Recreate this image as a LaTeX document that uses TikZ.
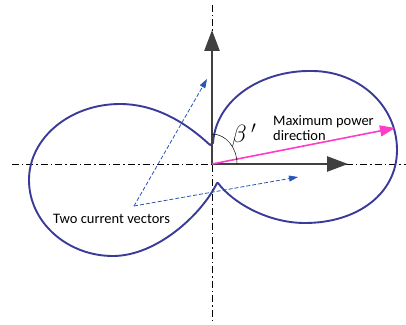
\documentclass[tikz,border=0pt]{standalone}
\usepackage{fontspec}
\setmainfont{Carlito}
\usepackage{tikz}
\usetikzlibrary{arrows.meta}
\definecolor{lobeBlue}{HTML}{3A3A98}
\definecolor{vecBlue}{HTML}{2A55B8}
\definecolor{axisGray}{HTML}{404040}
\definecolor{powMagenta}{HTML}{FF3CC8}

\begin{document}
\begin{tikzpicture}[x=1pt, y=1pt,
    centerline/.style={line width=0.6pt, dash pattern=on 7pt off 3pt on 1.5pt off 3pt},
    mainaxis/.style={line width=2.6pt, axisGray, -{Triangle[length=21pt, width=15pt]}},
    current/.style={vecBlue, line width=0.8pt, dash pattern=on 4pt off 2pt, -{Triangle[length=9pt, width=6pt]}},
    label/.style={font=\fontsize{14.5}{15.5}\selectfont, inner sep=0pt}]
    \useasboundingbox (-212,-160) rectangle (194,164);

    % reference axes
    \coordinate (top) at (0,159);
    \coordinate (bottom) at (0,-158);
    \coordinate (left) at (-200,0);
    \coordinate (right) at (194,0);
    \draw[centerline] (top) -- (bottom);
    \draw[centerline] (left) -- (right);

    % radiation pattern: left lobe, then right lobe
    \draw[lobeBlue, line width=1.9pt, line join=round]
        (-2,19) .. controls (-30,45) and (-60,60) .. (-92,60)
        .. controls (-142,60) and (-183,26) .. (-183,-16)
        .. controls (-183,-58) and (-145,-92) .. (-99,-92)
        .. controls (-55,-92) and (-10,-50) .. (5,-19)
        -- (6,-19) .. controls (20,-38) and (55,-59) .. (93,-59)
        .. controls (145,-59) and (185,-30) .. (185,14)
        .. controls (185,60) and (145,93) .. (100,93)
        .. controls (50,94) and (4,65) .. (1,21)
        -- cycle;

    \coordinate (O) at (0,0);
    \coordinate (ytip) at (0,134);
    \coordinate (xtip) at (136,0);
    \coordinate (pmax) at (183,36);
    \coordinate (foot) at (-78,-42);
    \coordinate (cura) at (-5,85);
    \coordinate (curb) at (86,-13);

    \draw[mainaxis] (O) -- (ytip);
    \draw[mainaxis] (O) -- (xtip);
    \draw[powMagenta, line width=1.6pt, -{Triangle[length=15pt, width=11pt]}] (O) -- (pmax);
    \draw[current] (foot) -- (cura);
    \draw[current] (foot) -- (curb);

    \draw[line width=0.5pt] (0,30) arc[start angle=90, end angle=0, x radius=25, y radius=30];

    \node[font=\fontsize{24}{28}\selectfont] (beta) at (32,28) {$\beta\,'$};
    \node[label, anchor=base west] (twocur) at (-159,-59) {Two current vectors};
    \node[label, anchor=north west, align=left] (maxpow) at (61,49) {Maximum power\\direction};
\end{tikzpicture}
\end{document}
